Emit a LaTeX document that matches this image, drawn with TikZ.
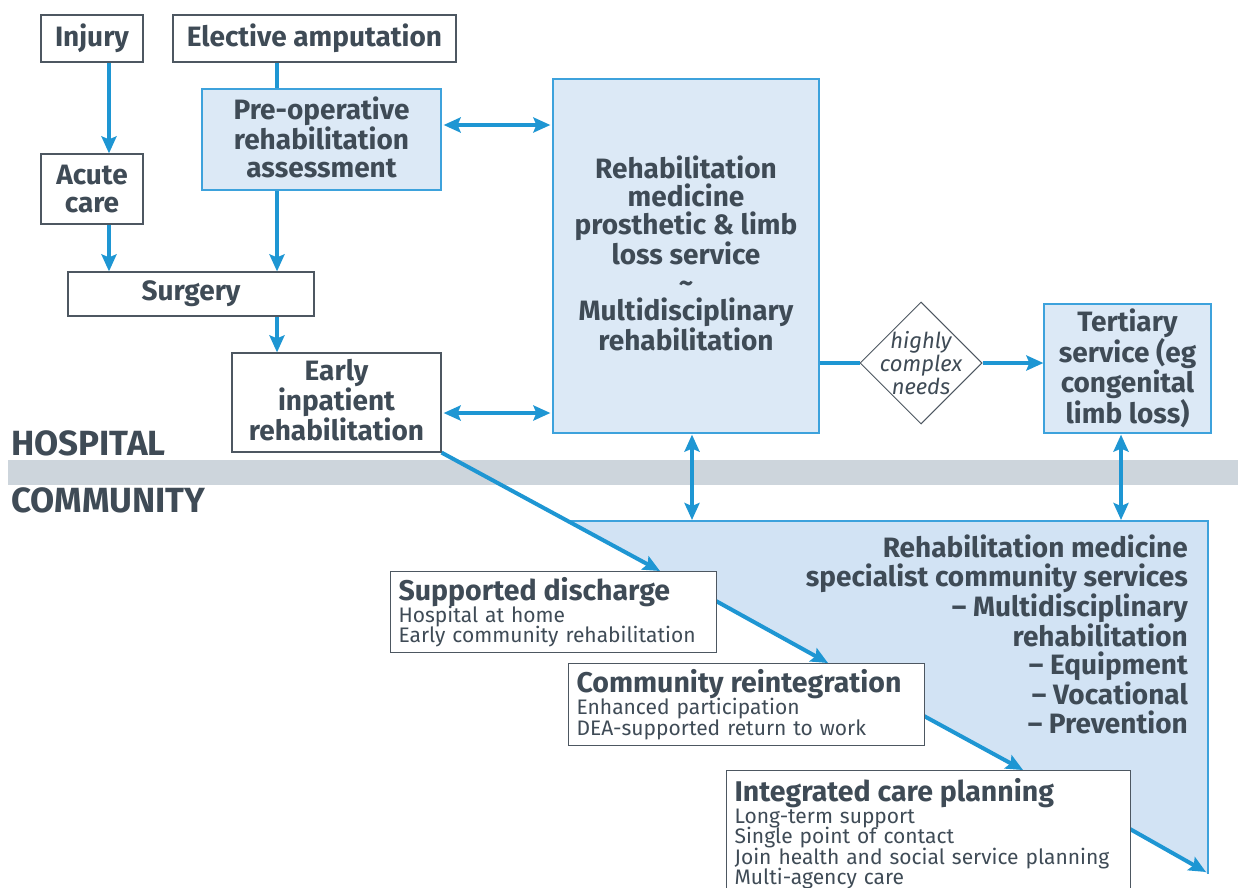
\documentclass[tikz,border=0pt]{standalone}
\usepackage{fontspec}
\setmainfont{Fira Sans}
\usetikzlibrary{arrows.meta,shapes.geometric,calc}
\definecolor{arrowblue}{HTML}{1E96D3}
\definecolor{txt}{HTML}{3F4B56}
\definecolor{boxline}{HTML}{4D5761}
\definecolor{lightfill}{HTML}{DCE9F6}
\definecolor{blueline}{HTML}{3DA2DC}
\definecolor{trifill}{HTML}{D2E3F4}
\definecolor{bandgray}{HTML}{CDD5DC}
\newcommand\fsz[2]{\fontsize{#1}{#2}\selectfont}
\newcommand\nolsk{\lineskiplimit=-20pt\relax}
\tikzset{
  box/.style={draw=boxline, line width=1.2pt, fill=white, text=txt, align=center, inner sep=0pt,
              font=\bfseries\fsz{28}{28}},
  bluebox/.style={box, draw=blueline, fill=lightfill},
  listbox/.style={draw=boxline, line width=1.2pt, fill=white, text=txt, align=left, anchor=north west,
              inner xsep=8pt, inner ysep=2pt, font=\fsz{21}{20.5}\nolsk},
  flow/.style={draw=arrowblue, line width=4pt, -{Stealth[length=17pt,width=15pt,inset=3pt]}},
  dflow/.style={draw=arrowblue, line width=4pt, {Stealth[length=17pt,width=15pt,inset=3pt]}-{Stealth[length=17pt,width=15pt,inset=3pt]}},
  plain/.style={draw=arrowblue, line width=4pt},
  zone/.style={text=txt, font=\bfseries\fsz{35}{38}, anchor=base west, inner sep=0pt}
}
\begin{document}
\begin{tikzpicture}[x=1pt,y=-1pt]
\useasboundingbox (0,0) rectangle (1238,887);
% band
\fill[bandgray] (8,460) rectangle (1238,485);
\node[zone] (hosp) at (11,455) {HOSPITAL};
\node[zone] (comm) at (11,512) {COMMUNITY};
% triangle
\fill[trifill] (568,521) -- (1208,521) -- (1208,874) -- cycle;
\draw[blueline, line width=1.2pt] (568,521) -- (1208,521) -- (1208,874);
\node[text=txt, font=\bfseries\fsz{28}{28.5}, align=right, anchor=north east, inner sep=0pt] (tri) at (1188,535)
  {Rehabilitation medicine\\specialist community services\\– Multidisciplinary\\rehabilitation\\– Equipment\\– Vocational\\– Prevention};
\coordinate (ctop1) at (692,521);
\coordinate (ctop2) at (1121,521);

% top-left boxes
\node[box, minimum width=102, minimum height=47] (injury) at (92,38.5) {Injury};
\node[box, minimum width=283, minimum height=47] (elec) at (314.5,38.5) {Elective amputation};
\node[bluebox, minimum width=239, minimum height=101, text depth=5pt] (pre) at (321.5,139.5) {Pre-operative\\rehabilitation\\assessment};
\node[box, minimum width=102, minimum height=70] (acute) at (92,189) {Acute\\care};
\node[box, minimum width=246, minimum height=44] (surg) at (191,294) {Surgery};
\node[box, minimum width=209, minimum height=99, text depth=5pt] (early) at (336.5,402.5) {Early\\inpatient\\rehabilitation};
\node[bluebox, minimum width=266, minimum height=354, text depth=5pt] (rehab) at (686,256)
  {Rehabilitation\\medicine\\prosthetic \& limb\\loss service\\\textasciitilde\\Multidisciplinary\\rehabilitation};
\node[diamond, draw=boxline, line width=1pt, fill=white, minimum width=122, minimum height=122, inner sep=0pt,
  label={[text=txt, font=\itshape\fsz{22}{23}, align=center, inner sep=0pt]center:{highly\\complex\\needs}}] (dm) at (921,363) {};
\node[bluebox, minimum width=167, minimum height=129] (tert) at (1127.5,368.5) {Tertiary\\service (eg\\congenital\\limb loss)};

% bottom list boxes (arrow line behind)
\coordinate (t1) at (660,571);
\coordinate (s2) at (716,601);
\coordinate (t2) at (828,663);
\coordinate (s3) at (924,716);
\coordinate (t3) at (1023,770);
\coordinate (s4) at (1130,829);
\coordinate (t4) at (1206,872);
\draw[flow] (early.south east) -- (t1);
\draw[flow] (s2) -- (t2);
\draw[flow] (s3) -- (t3);
\draw[flow] (s4) -- (t4);

\node[listbox, minimum width=326, minimum height=81, text width=310] (sd) at (390,571)
  {{\bfseries\fsz{28.5}{26}Supported discharge}\\[1.5pt]Hospital at home\\Early community rehabilitation};
\node[listbox, minimum width=356, minimum height=82, text width=340] (cr) at (568,663)
  {{\bfseries\fsz{28.5}{26}Community reintegration}\\[1.5pt]Enhanced participation\\DEA-supported return to work};
\node[listbox, minimum width=404, minimum height=126, text width=388] (icp) at (726,770)
  {{\bfseries\fsz{28.5}{26}Integrated care planning}\\[1.5pt]Long-term support\\Single point of contact\\Join health and social service planning\\Multi-agency care};

% connectors
\draw[flow] (injury.south -| 109,0) -- (acute.north -| 109,0);
\draw[flow] (acute.south -| 109,0) -- (surg.north -| 109,0);
\draw[plain] (elec.south -| 277,0) -- (pre.north -| 277,0);
\draw[flow] (pre.south -| 277,0) -- (surg.north -| 277,0);
\draw[flow] (surg.south -| 277,0) -- (early.north -| 277,0);
\draw[dflow, shorten <=2pt, shorten >=2pt] (pre.east |- 0,125) -- (rehab.west |- 0,125);
\draw[dflow, shorten <=2pt, shorten >=2pt] (early.east |- 0,413) -- (rehab.west |- 0,413);
\draw[plain] (rehab.east |- dm.west) -- (dm.west);
\draw[flow] (dm.east) -- (tert.west |- dm.east);
\draw[dflow, shorten <=1pt, shorten >=1pt] (rehab.south -| ctop1) -- (ctop1);
\draw[dflow, shorten <=1pt, shorten >=1pt] (tert.south -| ctop2) -- (ctop2);
\end{tikzpicture}
\end{document}
